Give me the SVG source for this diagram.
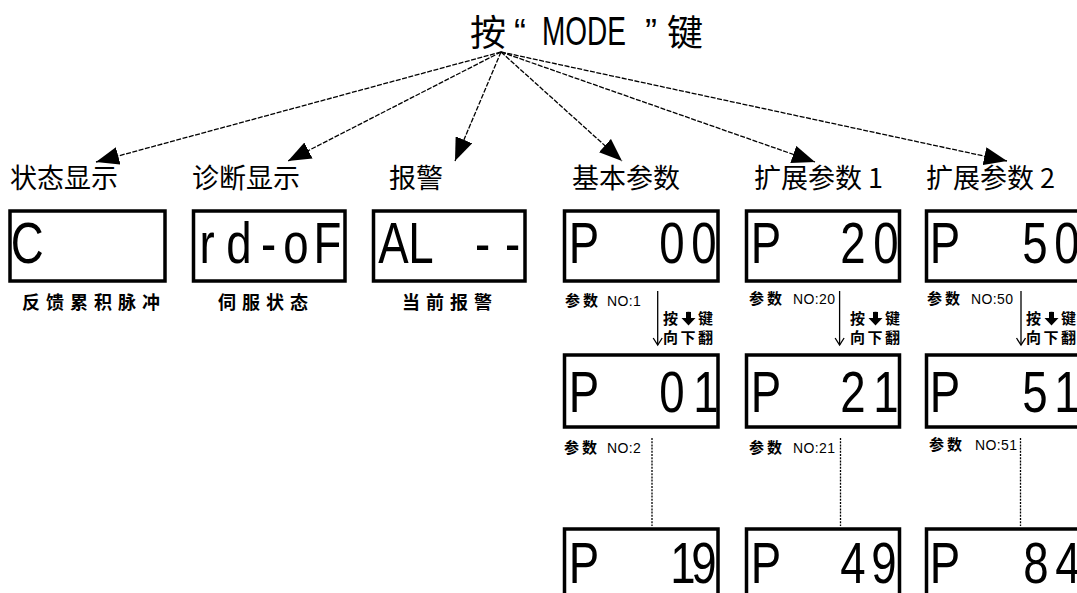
<svg xmlns="http://www.w3.org/2000/svg" width="1077" height="593" viewBox="0 0 1077 593">
<style>
.cjk{font-family:"Noto Sans CJK SC","Noto Sans CJK JP",sans-serif;fill:#000}
.lbl{font-size:27px}
.ttl{font-size:36px}
.lat{font-family:"Liberation Sans",Arial,sans-serif;fill:#000}
.cap{font-size:18px;font-weight:bold;letter-spacing:6px}
.pl{font-size:15px;font-weight:bold;letter-spacing:3px}
.no{font-family:"Liberation Sans",Arial,sans-serif;font-size:14px;font-weight:normal;letter-spacing:0.4px}
.key{font-size:15px;font-weight:bold;letter-spacing:2.5px}
.box{fill:none;stroke:#000;stroke-width:3.5}
.seg{font-family:"Liberation Sans",Arial,sans-serif;font-size:57px;text-anchor:middle;fill:#000}
.conn{stroke:#000;stroke-width:1.3;stroke-dasharray:5 1.5;fill:none;marker-end:url(#ah)}
.step{stroke:#000;stroke-width:1.3;fill:none;marker-end:url(#va)}
.dot{stroke:#000;stroke-width:1.3;stroke-dasharray:2 1.2;fill:none}
</style>
<defs>
<marker id="ah" markerUnits="userSpaceOnUse" markerWidth="24" markerHeight="18" refX="23" refY="9" orient="auto"><path d="M0,0 L23,9 L0,18 z" fill="#000"/></marker>
<marker id="va" markerUnits="userSpaceOnUse" markerWidth="12" markerHeight="12" refX="8" refY="5" orient="auto"><path d="M1,0.5 L8,5 L1,9.5" fill="none" stroke="#000" stroke-width="1.3"/></marker>
<path id="dn" d="M-2.5,-7 q2.5,-0.6 5,0 v6 h4.5 l-7,7.5 l-7,-7.5 h4.5 z" fill="#000"/>
</defs>
<rect width="1077" height="593" fill="#fff"/>

<g id="title">
<text class="cjk ttl" x="470" y="46">按</text>
<text class="lat" x="514" y="45" font-size="36">“</text>
<text class="lat" transform="translate(542 45) scale(0.683 1)" x="0" y="0" font-size="41">MODE</text>
<text class="lat" x="645" y="45" font-size="36">”</text>
<text class="cjk ttl" x="667" y="46">键</text>
</g>

<g id="connectors">
<line class="conn" x1="501" y1="52" x2="96" y2="162"/>
<line class="conn" x1="501" y1="52" x2="288" y2="161"/>
<line class="conn" x1="501" y1="52" x2="455" y2="161"/>
<line class="conn" x1="501" y1="52" x2="622" y2="161"/>
<line class="conn" x1="501" y1="52" x2="815" y2="162"/>
<line class="conn" x1="501" y1="52" x2="1007" y2="161"/>
<line class="step" x1="657.7" y1="291" x2="657.7" y2="345"/>
<line class="step" x1="839.6" y1="291" x2="839.6" y2="345"/>
<line class="step" x1="1021" y1="291" x2="1021" y2="345"/>
<line class="dot" x1="652" y1="438" x2="652" y2="526"/>
<line class="dot" x1="840.5" y1="438" x2="840.5" y2="526"/>
<line class="dot" x1="1020.5" y1="438" x2="1020.5" y2="526"/>
</g>

<g id="status">
<text class="cjk lbl" x="10" y="188">状态显示</text>
<rect class="box" x="10" y="211" width="155" height="70"/>
<text class="seg" transform="scale(0.8 1)" x="34" y="263">C</text>
<text class="cjk cap" x="22" y="308.5">反馈累积脉冲</text>
</g>

<g id="diagnose">
<text class="cjk lbl" x="192" y="188">诊断显示</text>
<rect class="box" x="193.5" y="211" width="151.5" height="70"/>
<text class="seg" transform="scale(0.8 1)" x="258.75 298.75 335.6 370 409.4" y="263">rd-oF</text>
<text class="cjk cap" x="218" y="308.5">伺服状态</text>
</g>

<g id="alarm">
<text class="cjk lbl" x="389" y="188">报警</text>
<rect class="box" x="373.5" y="211" width="151.5" height="70"/>
<text class="seg" transform="scale(0.8 1)" x="491.9 526.25 565 603.1 640.6" y="263">AL --</text>
<text class="cjk cap" x="402" y="308.5">当前报警</text>
</g>

<g id="basic">
<text class="cjk lbl" x="572" y="188">基本参数</text>
<rect class="box" x="564.5" y="211" width="153.5" height="70"/>
<text class="seg" transform="scale(0.8 1)" x="730 787.5 840 880" y="263">P 00</text>
<text class="cjk pl" x="565" y="306">参数<tspan class="no" x="607">NO:1</tspan></text>
<text class="cjk key" x="663" y="324">按<tspan x="698">键</tspan></text>
<use href="#dn" x="688.5" y="319"/>
<text class="cjk key" x="663" y="343">向下翻</text>
<rect class="box" x="564.5" y="355" width="153.5" height="72"/>
<text class="seg" transform="scale(0.8 1)" x="730 787.5 840 882.5" y="412">P 01</text>
<text class="cjk pl" x="564" y="453">参数<tspan class="no" x="607">NO:2</tspan></text>
<rect class="box" x="564.5" y="529" width="153.5" height="72"/>
<text class="seg" transform="scale(0.8 1)" x="730 787.5 853.75 880" y="583">P 19</text>
</g>

<g id="ext1">
<text class="cjk lbl" x="754" y="188">扩展参数 1</text>
<rect class="box" x="746.5" y="211" width="153" height="70"/>
<text class="seg" transform="scale(0.8 1)" x="957.5 1012.5 1066.25 1107.5" y="263">P 20</text>
<text class="cjk pl" x="749" y="304">参数<tspan class="no" x="793">NO:20</tspan></text>
<text class="cjk key" x="850" y="324">按<tspan x="885">键</tspan></text>
<use href="#dn" x="875.5" y="319"/>
<text class="cjk key" x="850" y="343">向下翻</text>
<rect class="box" x="746.5" y="355" width="153" height="72"/>
<text class="seg" transform="scale(0.8 1)" x="957.5 1012.5 1066.25 1107.5" y="412">P 21</text>
<text class="cjk pl" x="749" y="453">参数<tspan class="no" x="793">NO:21</tspan></text>
<rect class="box" x="746.5" y="529" width="153" height="72"/>
<text class="seg" transform="scale(0.8 1)" x="957.5 1012.5 1066.25 1105" y="583">P 49</text>
</g>

<g id="ext2">
<text class="cjk lbl" x="926" y="188">扩展参数 2</text>
<rect class="box" x="926.5" y="211" width="153.5" height="70"/>
<text class="seg" transform="scale(0.8 1)" x="1181.25 1237.5 1293.75 1333.75" y="263">P 50</text>
<text class="cjk pl" x="927" y="304">参数<tspan class="no" x="971">NO:50</tspan></text>
<text class="cjk key" x="1026" y="324">按<tspan x="1061">键</tspan></text>
<use href="#dn" x="1051.5" y="319"/>
<text class="cjk key" x="1026" y="343">向下翻</text>
<rect class="box" x="926.5" y="355" width="153.5" height="72"/>
<text class="seg" transform="scale(0.8 1)" x="1181.25 1237.5 1293.75 1333.75" y="412">P 51</text>
<text class="cjk pl" x="929" y="450">参数<tspan class="no" x="975">NO:51</tspan></text>
<rect class="box" x="926.5" y="529" width="153.5" height="72"/>
<text class="seg" transform="scale(0.8 1)" x="1181.25 1237.5 1295 1335" y="583">P 84</text>
</g>
</svg>
